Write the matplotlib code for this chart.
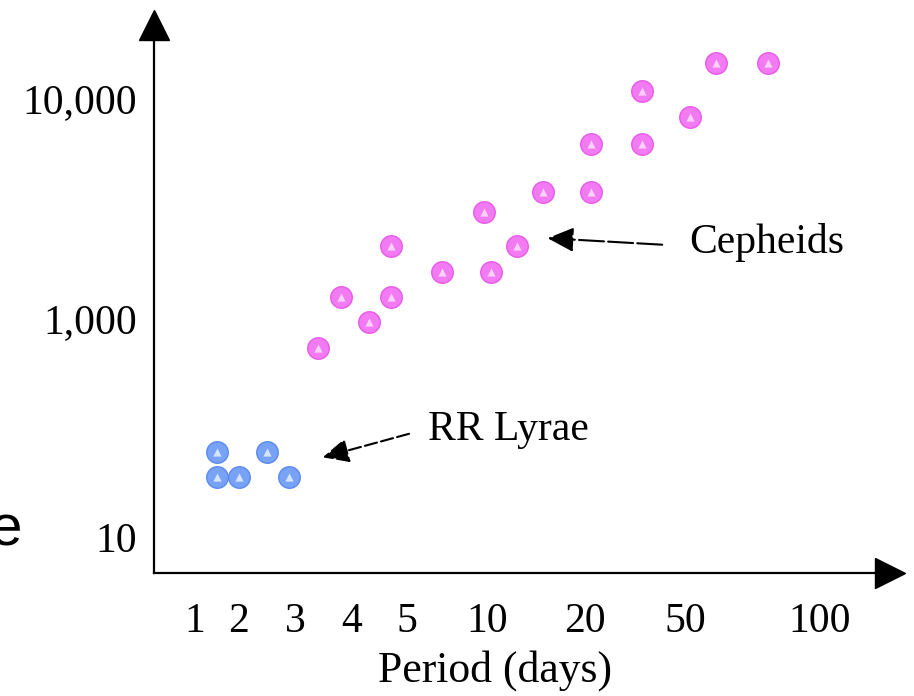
import numpy as np
import matplotlib.pyplot as plt

# RR Lyrae stars (period in days, luminosity in suns)
rr_period = [1.5, 2.5, 1.5, 2.0, 2.9]
rr_lum = [60, 60, 35, 35, 35]

# Cepheids
ceph_period = [3.4, 3.8, 4.3, 4.7, 4.7, 7.2, 10.4, 9.8, 13.1, 15.7,
               21.8, 21.8, 37, 37, 52, 61.5, 80.7]
ceph_lum = [530, 1250, 920, 1250, 2120, 1620, 1620, 3030, 2120, 3740,
            3740, 6180, 6180, 10760, 8200, 14400, 14400]

x_ticks = [1, 2, 3, 4, 5, 10, 20, 50, 100]
x_labels = ['1', '2', '3', '4', '5', '10', '20', '50', '100']
y_ticks = [10, 1000, 10000]
y_labels = ['10', '1,000', '10,000']

# hand drawn axis: ticks are not evenly spaced, so map them piecewise
x_vals = [0] + x_ticks + [150]
x_pos = [154, 195, 239, 295, 352, 407, 487, 585, 685, 820, 875]
y_logs = [0.67, 1, 3, 4, 4.273]
y_pos = [123, 159, 378, 598, 658]


def fx(v):
    return np.interp(v, x_vals, x_pos)


def fx_inv(p):
    return np.interp(p, x_pos, x_vals)


def fy(v):
    return np.interp(np.log10(np.clip(v, 1e-9, None)), y_logs, y_pos)


def fy_inv(p):
    return 10 ** np.interp(p, y_pos, y_logs)


serif = 'Liberation Serif'
fs = 30
fig = plt.figure(figsize=(9.14, 6.96), dpi=100)
ax = fig.add_axes([154 / 914, 123 / 696, 721 / 914, 535 / 696])
ax.set_xscale('function', functions=(fx, fx_inv))
ax.set_yscale('function', functions=(fy, fy_inv))
ax.set_xlim(0, 150)
ax.set_ylim(10 ** 0.67, 10 ** 4.273)

for s in ['top', 'right']:
    ax.spines[s].set_visible(False)
for s in ['left', 'bottom']:
    ax.spines[s].set_linewidth(1.6)
# arrow heads on the axes
ax.plot([0], [1 + 13 / 535], marker='^', markersize=21, color='black',
        transform=ax.transAxes, clip_on=False)
ax.plot([1 + 15 / 721], [0], marker='>', markersize=21, color='black',
        transform=ax.transAxes, clip_on=False)

ax.set_xticks(x_ticks)
ax.set_xticklabels(x_labels, family=serif, fontsize=fs)
ax.set_yticks(y_ticks)
ax.set_yticklabels(y_labels, family=serif, fontsize=fs)
ax.xaxis.set_minor_locator(plt.NullLocator())
ax.yaxis.set_minor_locator(plt.NullLocator())
ax.tick_params(axis='x', length=0, pad=21)
ax.tick_params(axis='y', length=0, pad=12)
ax.set_xlabel('Period (days)', family=serif, fontsize=31.5)
ax.xaxis.set_label_coords((495 - 154) / 721, -(650 - 573) / 535)

ax.scatter(ceph_period, ceph_lum, s=240, color='#f27af2', edgecolor='#e85ae8', lw=1, zorder=3)
ax.scatter(ceph_period, ceph_lum, s=35, marker='^', color='#fbd0fb', lw=0, zorder=4)
ax.scatter(rr_period, rr_lum, s=240, color='#78a2f5', edgecolor='#5b8af0', lw=1, zorder=3)
ax.scatter(rr_period, rr_lum, s=35, marker='^', color='#d6e3fd', lw=0, zorder=4)

head = '-|>,head_length=1.6,head_width=0.75'
ax.annotate('', xy=(15.9, 2310), xytext=(44, 2150),
            arrowprops=dict(arrowstyle=head, color='black', lw=1.5, ls=(0, (12, 2))))
ax.text(51.6, 2215, 'Cepheids', family=serif, fontsize=fs, va='center')
ax.annotate('', xy=(3.44, 52.6), xytext=(5.3, 89),
            arrowprops=dict(arrowstyle=head, color='black', lw=1.5, ls=(0, (6, 2))))
ax.text(6.3, 95, 'RR Lyrae', family=serif, fontsize=fs, va='center')

# stray letter cut off at the left edge of the original picture
fig.text(22 / 914, 151 / 696, 'e', ha='right', va='baseline', fontsize=42, family='Liberation Sans')

fig.savefig('out.png', dpi=100)
